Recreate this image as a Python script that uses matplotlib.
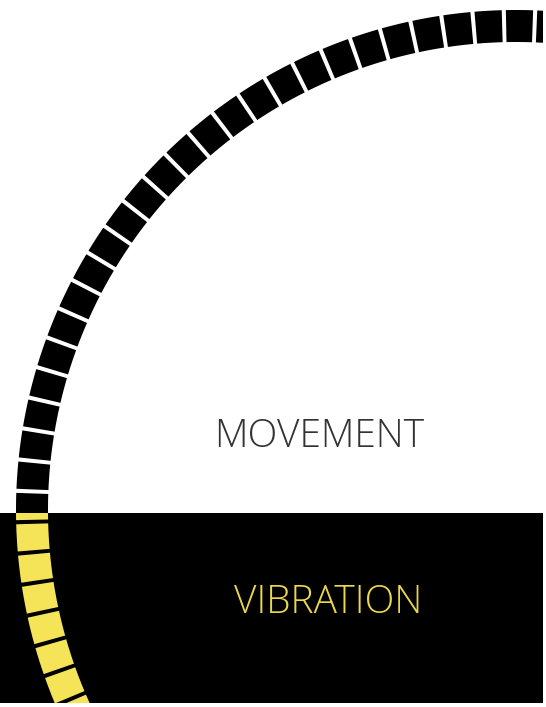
import matplotlib
matplotlib.use("Agg")
import matplotlib.pyplot as plt
from matplotlib.patches import Wedge, Rectangle
import numpy as np

# ring of segments (100 per full turn), first gap at 91.4 deg
n_segments = 100
gap_start_deg = 91.4
labels = ["MOVEMENT", "VIBRATION"]
label_colors = ["#333333", "#ECD94A"]

bg_color = "#ffffff"
band_color = "#000000"
seg_top_color = "#000000"
seg_bottom_color = "#F5E458"

W, H = 543, 703
cx, cy = 516, 510
r_out, r_in = 500, 468
band_top = 513
gap_px = 4

fig = plt.figure(figsize=(5.46, 7.07), dpi=100)
fig.patch.set_facecolor(bg_color)
ax = fig.add_axes([0, 4 / 707, W / 546, H / 707])
ax.set_xlim(0, W)
ax.set_ylim(H, 0)
ax.axis("off")

# black band at the bottom
band = Rectangle((0, band_top), W, H - band_top, facecolor=band_color,
                 edgecolor="none", zorder=2)
ax.add_patch(band)

pitch = 360.0 / n_segments
gap_deg = np.rad2deg(gap_px / ((r_out + r_in) / 2))
for k in range(n_segments):
    a0 = gap_start_deg + k * pitch + gap_deg / 2
    a1 = a0 + pitch - gap_deg
    # y axis is inverted, so screen angle -> data angle is negated
    w = Wedge((cx, cy), r_out, -a1, -a0, width=r_out - r_in,
              facecolor=seg_top_color, edgecolor="none", zorder=1)
    ax.add_patch(w)
    wy = Wedge((cx, cy), r_out, -a1, -a0, width=r_out - r_in,
               facecolor=seg_bottom_color, edgecolor="none", zorder=3)
    ax.add_patch(wy)
    wy.set_clip_path(band)

ax.text(319, 447, labels[0], color=label_colors[0], fontsize=28,
        family="Open Sans", fontweight=300, ha="center", va="baseline", zorder=4)
ax.text(328.5, 613, labels[1], color=label_colors[1], fontsize=28,
        family="Open Sans", fontweight=300, ha="center", va="baseline", zorder=4)

fig.savefig("out.png", dpi=100, facecolor=bg_color)
